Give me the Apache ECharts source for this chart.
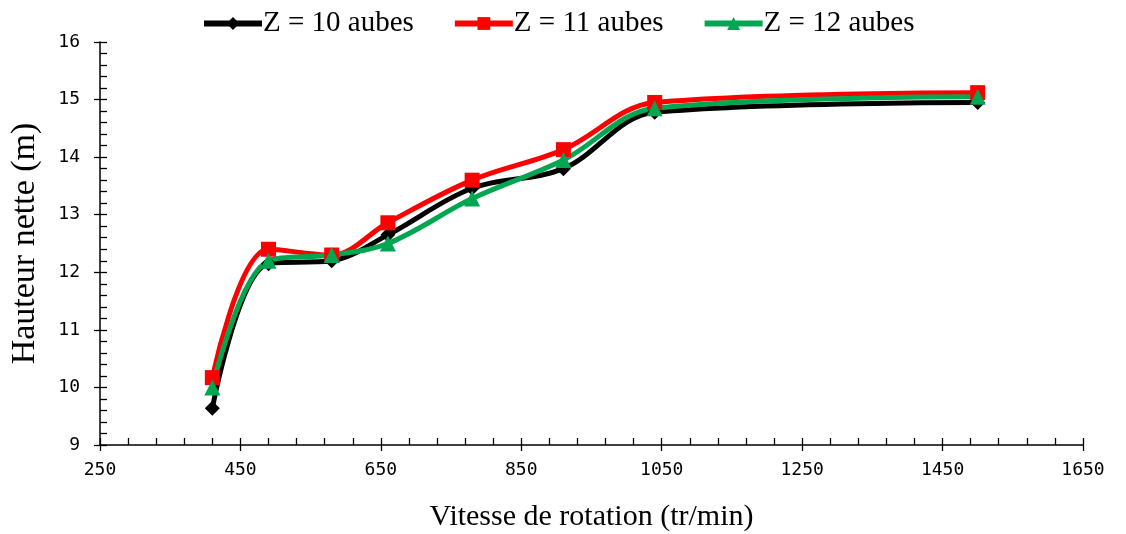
<!DOCTYPE html>
<html><head><meta charset="utf-8">
<script src="https://cdn.jsdelivr.net/npm/echarts@6/dist/echarts.min.js"></script>
<style>html,body{margin:0;padding:0;background:#fff}#c{width:1126px;height:534px}</style>
</head><body><div id="c"></div>
<script>
const speeds = [410, 490, 580, 660, 780, 910, 1040, 1500];
const z10 = [9.64, 12.15, 12.2, 12.65, 13.46, 13.8, 14.78, 14.95];
const z11 = [10.17, 12.4, 12.3, 12.86, 13.6, 14.13, 14.95, 15.12];
const z12 = [10.0, 12.2, 12.3, 12.5, 13.28, 13.95, 14.85, 15.05];
const seriesNames = ['Z = 10 aubes', 'Z = 11 aubes', 'Z = 12 aubes'];
const xTicks = {min: 250, max: 1650, interval: 200};
const yTicks = {min: 9, max: 16, interval: 1};

const pairs = a => speeds.map((s, i) => [s, a[i]]);
const chart = echarts.init(document.getElementById('c'));
const serif = 'Liberation Serif';
const tickFont = {fontFamily: 'DejaVu Sans Mono', fontSize: 18, color: '#000', formatter: v => String(v)};
const grid = {left: 100, right: 43, top: 42, bottom: 89, containLabel: false, outerBoundsMode: 'none'};
function mk(name, data, color, symbol, size) {
  return {name, type: 'line', data: pairs(data), smooth: 0.35, symbol, symbolSize: size,
    showSymbol: true, lineStyle: {color, width: 5}, itemStyle: {color}, z: 3};
}
const minorAxis = (o) => Object.assign({
  type: 'value', axisLine: {show: false}, axisLabel: {show: false}, splitLine: {show: false},
  axisTick: {show: true, inside: true, length: 7, lineStyle: {color: '#000', width: 1.3}},
  minorTick: {show: true, splitNumber: 5, length: 7, lineStyle: {color: '#000', width: 1.3}}
}, o);
chart.setOption({
  animation: false,
  backgroundColor: '#fff',
  grid,
  legend: {
    top: 4, left: 196, itemGap: 38, itemWidth: 58, itemHeight: 16,
    lineStyle: {width: 6},
    textStyle: {fontFamily: serif, fontSize: 29, color: '#000', padding: [0,0,0,-4]},
    data: seriesNames
  },
  xAxis: [{
    type: 'value', min: xTicks.min, max: xTicks.max, interval: xTicks.interval,
    name: 'Vitesse de rotation (tr/min)', nameLocation: 'middle', nameGap: 57,
    nameTextStyle: {fontFamily: serif, fontSize: 30, color: '#000'},
    axisLine: {show: true, lineStyle: {color: '#000', width: 1.5}},
    axisTick: {show: true, inside: false, length: 6, lineStyle: {color: '#000', width: 1.3}},
    axisLabel: Object.assign({margin: 16}, tickFont),
    splitLine: {show: false}
  }, minorAxis({min: xTicks.min, max: xTicks.max, interval: xTicks.interval, position: 'bottom'})],
  yAxis: [{
    type: 'value', min: yTicks.min, max: yTicks.max, interval: yTicks.interval,
    name: 'Hauteur nette (m)', nameLocation: 'middle', nameGap: 58,
    nameTextStyle: {fontFamily: serif, fontSize: 34, color: '#000'},
    axisLine: {show: true, lineStyle: {color: '#000', width: 1.5}},
    axisTick: {show: true, inside: false, length: 6, lineStyle: {color: '#000', width: 1.3}},
    axisLabel: Object.assign({margin: 20}, tickFont),
    splitLine: {show: false}
  }, minorAxis({min: yTicks.min, max: yTicks.max, interval: yTicks.interval, position: 'left'})],
  series: [
    mk(seriesNames[0], z10, '#000000', 'diamond', 15),
    mk(seriesNames[1], z11, '#ff0000', 'rect', 15),
    mk(seriesNames[2], z12, '#00a651', 'triangle', 16)
  ]
});
</script></body></html>
